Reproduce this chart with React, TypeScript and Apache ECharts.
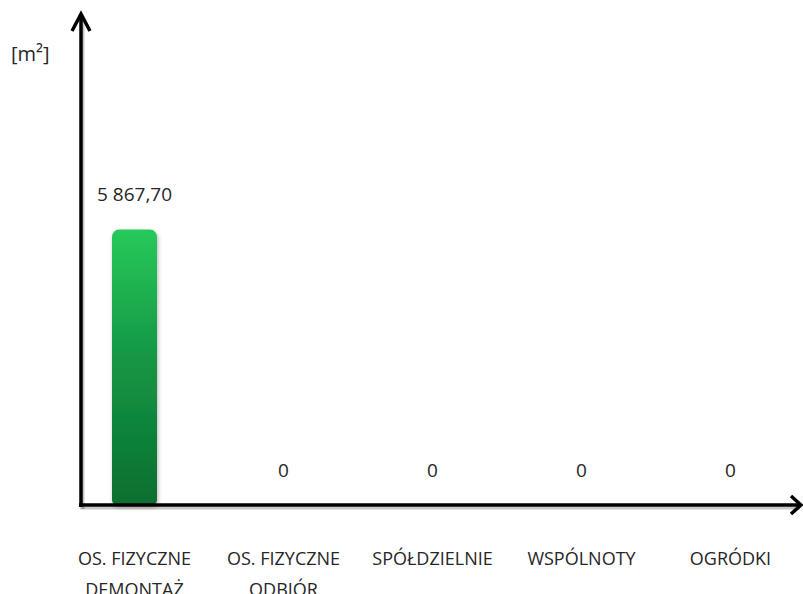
import React, { useEffect, useRef } from "react";
import * as echarts from "echarts";

const categories = [
  "OS. FIZYCZNE\nDEMONTAŻ",
  "OS. FIZYCZNE\nODBIÓR",
  "SPÓŁDZIELNIE",
  "WSPÓLNOTY",
  "OGRÓDKI",
];
const values = [5867.7, 0, 0, 0, 0];
const unitLabel = "[m²]";

const FONT = "'Open Sans', 'Noto Sans', sans-serif";

function fmt(v: number): string {
  if (v === 0) return "0";
  const [i, d] = v.toFixed(2).split(".");
  const withSpaces = i.replace(/\B(?=(\d{3})+(?!\d))/g, " ");
  return withSpaces + "," + d;
}

export default function App() {
  const ref = useRef<HTMLDivElement>(null);
  useEffect(() => {
    if (!ref.current) return;
    const chart = echarts.init(ref.current, null, { renderer: "svg" });
    const axisStyle = { stroke: "#000", lineWidth: 3.5 };
    const shadowStyle = { stroke: "rgba(0,0,0,0.22)", lineWidth: 3 };
    chart.setOption({
      animation: false,
      backgroundColor: "#fff",
      grid: {
        left: 60,
        top: 31,
        width: 745,
        height: 474,
        containLabel: false,
        outerBoundsMode: "none",
      },
      xAxis: {
        type: "category",
        data: categories,
        axisLine: { show: false },
        axisTick: { show: false },
        axisLabel: {
          interval: 0,
          margin: 37,
          color: "#262626",
          fontSize: 18,
          lineHeight: 31,
          fontFamily: FONT,
        },
      },
      yAxis: {
        type: "value",
        min: 0,
        max: 10100,
        show: false,
        splitLine: { show: false },
      },
      series: [
        {
          type: "bar",
          data: values,
          barWidth: 45,
          itemStyle: {
            borderRadius: [7, 7, 5, 5],
            color: new echarts.graphic.LinearGradient(0, 0, 0, 1, [
              { offset: 0, color: "#27c95b" },
              { offset: 0.45, color: "#159845" },
              { offset: 1, color: "#0b6e30" },
            ]),
            shadowBlur: 4,
            shadowColor: "rgba(0,0,0,0.3)",
            shadowOffsetX: 1,
            shadowOffsetY: 2,
          },
          label: {
            show: true,
            position: "top",
            distance: 26,
            color: "#262626",
            fontSize: 19,
            fontFamily: FONT,
            formatter: (p: any) => fmt(p.value),
          },
        },
      ],
      graphic: [
        { type: "line", shape: { x1: 83, y1: 509, x2: 83, y2: 20 }, style: shadowStyle, z: 99 },
        { type: "line", shape: { x1: 80, y1: 508, x2: 800, y2: 508 }, style: shadowStyle, z: 99 },
        { type: "line", shape: { x1: 81, y1: 507, x2: 81, y2: 15 }, style: axisStyle, z: 100 },
        { type: "polyline", shape: { points: [[72, 31], [81, 14], [90, 31]] }, style: { ...axisStyle, fill: null, lineJoin: "miter" }, z: 100 },
        { type: "line", shape: { x1: 79, y1: 505, x2: 800, y2: 505 }, style: axisStyle, z: 100 },
        { type: "polyline", shape: { points: [[791, 496], [801, 505], [791, 514]] }, style: { ...axisStyle, fill: null, lineJoin: "miter" }, z: 100 },
        {
          type: "text",
          x: 11,
          y: 53,
          style: { text: unitLabel, fontSize: 20, fontFamily: FONT, fill: "#262626", verticalAlign: "middle" },
          z: 100,
        },
      ],
    });
    return () => chart.dispose();
  }, []);
  return <div ref={ref} style={{ position: "absolute", left: 0, top: 0, width: 803, height: 594 }} />;
}
